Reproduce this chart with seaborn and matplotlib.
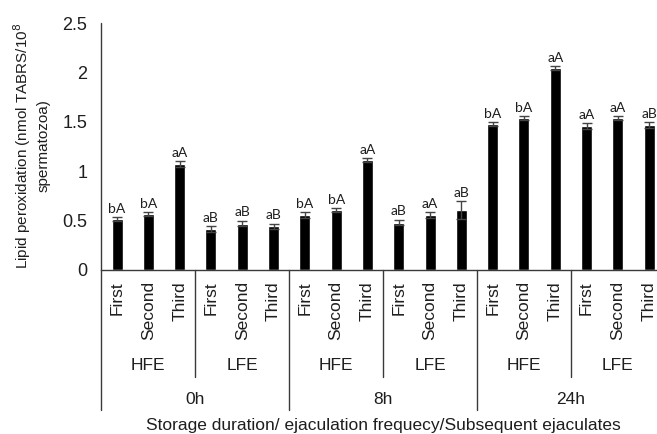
import matplotlib
matplotlib.use("Agg")
import matplotlib.pyplot as plt
import pandas as pd
import seaborn as sns

# values
storage = ["0h", "8h", "24h"]
frequency = ["HFE", "LFE"]
ejaculates = ["First", "Second", "Third"]
lipid = [0.52, 0.57, 1.07, 0.41, 0.47, 0.44,
         0.56, 0.61, 1.11, 0.48, 0.56, 0.61,
         1.48, 1.54, 2.04, 1.46, 1.54, 1.47]
sem = [0.02, 0.02, 0.03, 0.03, 0.03, 0.03,
       0.03, 0.02, 0.02, 0.03, 0.03, 0.09,
       0.02, 0.02, 0.02, 0.03, 0.02, 0.03]
letters = ["bA", "bA", "aA", "aB", "aB", "aB",
           "bA", "bA", "aA", "aB", "aA", "aB",
           "bA", "bA", "aA", "aA", "aA", "aB"]

slots = [f"{s}-{f}-{e}" for s in storage for f in frequency for e in ejaculates]
df = pd.DataFrame({"slot": slots, "lipid": lipid})

sns.set_theme(style="white")
plt.rcParams["font.family"] = ["Liberation Sans", "DejaVu Sans"]
ink = "#1e1e1e"
line_c = "#3a3a3a"

fig = plt.figure(figsize=(6.57, 4.34), dpi=100)
ax = fig.add_axes([0.1543, 0.378, 0.8576, 0.569])

sns.barplot(data=df, x="slot", y="lipid", order=slots, color="black",
            width=0.35, saturation=1, errorbar=None, ax=ax)

for p, e, lab in zip(ax.patches, sem, letters):
    cx = p.get_x() + p.get_width() / 2
    h = p.get_height()
    ax.errorbar(cx, h, yerr=e, fmt="none", ecolor="#444444",
                elinewidth=1, capsize=3.5, capthick=1)
    ax.annotate(lab, (cx, h + e), xytext=(0, 1.5), textcoords="offset points",
                ha="center", va="bottom", fontsize=10, color=ink,
                family=["Lato", "DejaVu Sans"])

ax.set_xlim(-0.5, len(slots) - 0.5)
ax.set_ylim(0, 2.5)
ax.set_yticks([0, 0.5, 1, 1.5, 2, 2.5])
ax.set_yticklabels(["0", "0.5", "1", "1.5", "2", "2.5"], fontsize=13, color=ink)
ax.tick_params(axis="y", length=0, pad=10)
ax.set_xticks(range(len(slots)))
ax.set_xticklabels(ejaculates * (len(storage) * len(frequency)),
                   rotation=90, fontsize=12.5, color=ink, va="top")
ax.tick_params(axis="x", length=0, pad=8)
ax.set_xlabel("")
ax.set_ylabel("")

for side in ["top", "right", "left"]:
    ax.spines[side].set_visible(False)
ax.spines["bottom"].set_color(line_c)
ax.spines["bottom"].set_linewidth(1)

tr = ax.get_xaxis_transform()
# left axis line runs down to the outer bracket
ax.plot([-0.5, -0.5], [1, -0.567], transform=tr, color=line_c, lw=1, clip_on=False)
for i in range(len(storage)):
    start = i * 6 - 0.5
    if i > 0:
        ax.plot([start, start], [0, -0.567], transform=tr, color=line_c, lw=1, clip_on=False)
    mid = start + 3
    ax.plot([mid, mid], [0, -0.433], transform=tr, color=line_c, lw=1, clip_on=False)
    ax.text(start + 1.5, -0.385, frequency[0], transform=tr, ha="center", va="center",
            fontsize=12.5, color=ink)
    ax.text(start + 4.5, -0.385, frequency[1], transform=tr, ha="center", va="center",
            fontsize=12.5, color=ink)
    ax.text(start + 3, -0.525, storage[i], transform=tr, ha="center", va="center",
            fontsize=12.5, color=ink)

ax.text(0.5, -0.628, "Storage duration/ ejaculation frequecy/Subsequent ejaculates",
        transform=ax.transAxes, ha="center", va="center", fontsize=12.5, color=ink)

fig.text(0.047, 1 - 146 / 434, "Lipid peroxidation (nmol TABRS/10$^{8}$\nspermatozoa)",
         rotation=90, ha="center", va="center", fontsize=11, color=ink,
         linespacing=1.4, multialignment="center")

fig.savefig("out.png", dpi=100)
